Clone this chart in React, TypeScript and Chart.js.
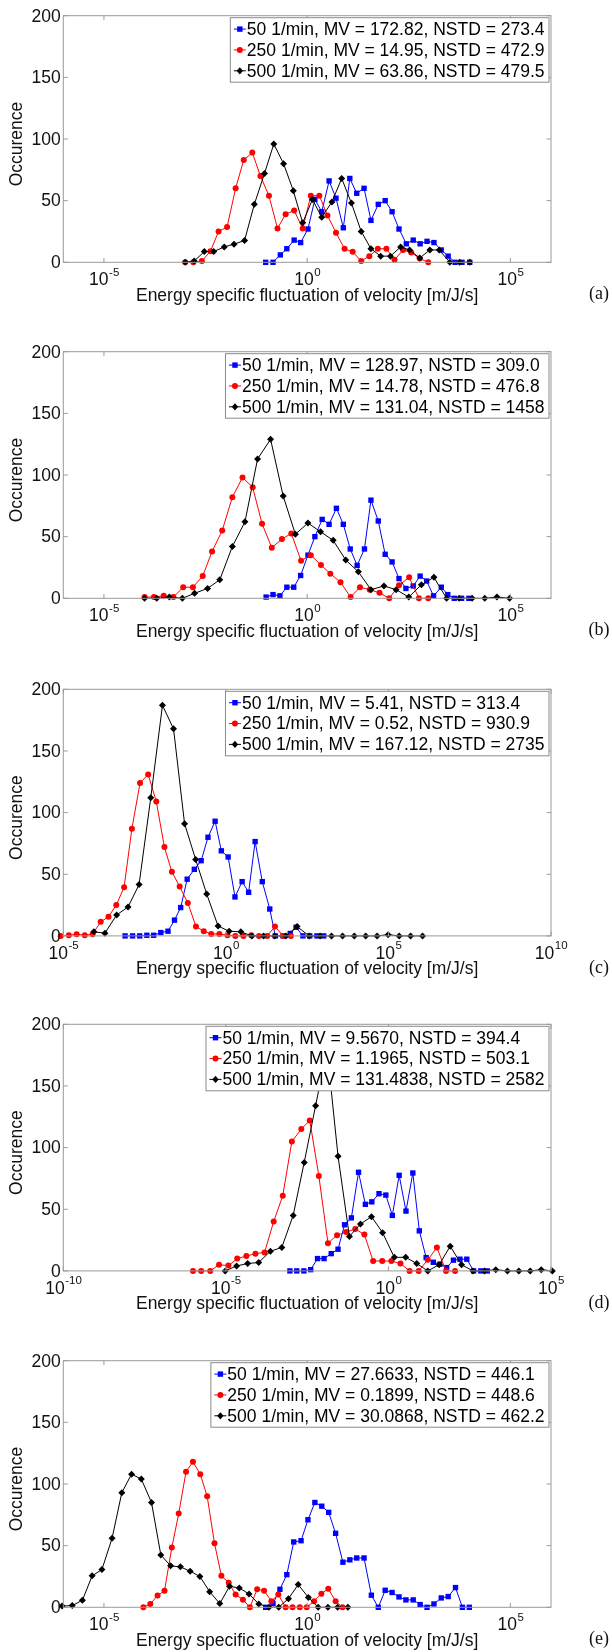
import React, { useEffect, useRef } from "react";
import { Chart, registerables } from "chart.js";
Chart.register(...registerables);

const SANS = '"Liberation Sans", Arial, Helvetica, sans-serif';
const SERIF = '"Liberation Serif", "Times New Roman", serif';
const BLUE = "#0000ff";
const RED = "#ff0000";
const BLACK = "#000000";
const AXIS = "#9a9a9a";

const yTicks = [0, 50, 100, 150, 200];
const xTitle = "Energy specific fluctuation of velocity [m/J/s]";
const yTitle = "Occurence";

// ---------- (a) ----------
const aXRange = [-6, 6];
const aXTicks = [-5, 0, 5];
const aLegend = ["50 1/min, MV = 172.82, NSTD = 273.4", "250 1/min, MV = 14.95, NSTD = 472.9", "500 1/min, MV = 63.86, NSTD = 479.5"];
const aBlueX = [-1.02, -0.84, -0.66, -0.5, -0.32, -0.16, 0.02, 0.19, 0.36, 0.54, 0.71, 0.89, 1.05, 1.22, 1.4, 1.57, 1.75, 1.92, 2.09, 2.26, 2.44, 2.61, 2.78, 2.95, 3.12, 3.3, 3.47, 3.64, 3.81, 4.0];
const aBlueY = [0, 0, 6, 11, 18, 16, 27, 51, 41, 66, 52, 28, 68, 56, 60, 34, 47, 50, 41, 27, 15, 18, 15, 17, 16, 10, 5, 0, 0, 0];
const aRedX = [-3.0, -2.8, -2.59, -2.38, -2.18, -1.97, -1.76, -1.56, -1.35, -1.15, -0.94, -0.73, -0.53, -0.32, -0.11, 0.09, 0.3, 0.5, 0.71, 0.92, 1.12, 1.33, 1.53, 1.74, 1.95, 2.15, 2.36, 2.56, 2.77, 2.98];
const aRedY = [0, 0, 1, 9, 25, 28.6, 60, 83, 89, 70, 54, 27.5, 39, 42, 27.5, 54, 54, 38, 24, 11, 8.5, 1, 5, 11, 11, 2, 10, 8, 3, 0];
const aBlackX = [-3.0, -2.78, -2.53, -2.3, -2.04, -1.8, -1.54, -1.3, -1.05, -0.82, -0.58, -0.34, -0.11, 0.13, 0.36, 0.61, 0.85, 1.09, 1.33, 1.57, 1.81, 2.05, 2.3, 2.52, 2.77, 3.02, 3.25, 3.51, 3.75, 4.0];
const aBlackY = [0, 1, 8.7, 8.7, 12.5, 14.7, 17.7, 47, 72, 96, 80, 58, 32, 51, 36.5, 49, 68, 48, 25, 11, 5, 5, 12.5, 10, 3.5, 10, 10, 0, 0, 0];

// ---------- (b) ----------
const bXRange = [-6, 6];
const bXTicks = [-5, 0, 5];
const bLegend = ["50 1/min, MV = 128.97, NSTD = 309.0", "250 1/min, MV = 14.78, NSTD = 476.8", "500 1/min, MV = 131.04, NSTD = 1458"];
const bBlueX = [-1.01, -0.84, -0.67, -0.5, -0.33, -0.16, 0.02, 0.19, 0.37, 0.54, 0.72, 0.89, 1.06, 1.23, 1.41, 1.57, 1.75, 1.92, 2.09, 2.26, 2.43, 2.61, 2.78, 2.94, 3.11, 3.3, 3.46, 3.62, 3.8, 3.98];
const bBlueY = [1, 3, 2, 9, 9, 18.5, 35, 50, 64, 60, 73, 60, 40, 26.7, 40, 79.6, 62.7, 35.7, 29.5, 16, 8, 10, 18, 14, 2, 9, 3, 0, 0, 0];
const bRedX = [-4.0, -3.77, -3.53, -3.29, -3.05, -2.81, -2.57, -2.34, -2.09, -1.84, -1.59, -1.34, -1.11, -0.87, -0.62, -0.39, -0.15, 0.09, 0.34, 0.57, 0.82, 1.07, 1.3, 1.54, 1.78, 2.02, 2.26, 2.51, 2.75, 2.98];
const bRedY = [1, 1, 2, 1, 9, 9, 18, 38, 55, 82, 98, 90, 60.5, 41, 48, 52.6, 30.5, 35, 27, 20, 13, 1, 9, 7, 4.4, 0, 10.6, 17, 0, 0];
const bBlackX = [-4.0, -3.7, -3.39, -3.07, -2.77, -2.45, -2.15, -1.84, -1.53, -1.22, -0.9, -0.59, -0.29, 0.02, 0.33, 0.64, 0.95, 1.26, 1.57, 1.89, 2.19, 2.5, 2.81, 3.12, 3.43, 3.74, 4.06, 4.37, 4.67, 4.98];
const bBlackY = [0, 0, 1, 0, 4, 8, 15, 42, 62, 113, 129, 83, 52, 61, 54, 47, 31, 21.5, 7, 10, 7, 1, 11, 17, 0, 0, 0, 0, 1, 0];

// ---------- (c) ----------
const cXRange = [-5, 10];
const cXTicks = [-5, 0, 5, 10];
const cLegend = ["50 1/min, MV = 5.41, NSTD = 313.4", "250 1/min, MV = 0.52, NSTD = 930.9", "500 1/min, MV = 167.12, NSTD = 2735"];
const cBlueX = [-3.1, -2.87, -2.65, -2.43, -2.22, -2.0, -1.78, -1.58, -1.39, -1.19, -0.97, -0.76, -0.55, -0.33, -0.14, 0.07, 0.28, 0.5, 0.7, 0.9, 1.12, 1.35, 1.52, 1.76, 1.98, 2.16, 2.37, 2.58, 2.8, 3.01];
const cBlueY = [0, 0, 0, 0.5, 0.5, 2.7, 3.8, 12.8, 23, 46, 54, 61, 80, 93, 69, 64, 31.6, 44, 35.4, 76.5, 44, 21.8, 0, 0, 2, 7, 0, 0, 0, 0];
const cRedX = [-5.08, -4.83, -4.59, -4.34, -4.1, -3.85, -3.61, -3.37, -3.13, -2.89, -2.64, -2.39, -2.14, -1.89, -1.66, -1.42, -1.17, -0.92, -0.68, -0.45, -0.2, 0.05, 0.29, 0.54, 0.78, 1.02, 1.27, 1.51, 1.76, 2.0];
const cRedY = [0, 0.5, 1.4, 0.5, 1.4, 11.4, 15.5, 25, 39.5, 87, 124, 131, 109, 72, 52, 40, 26.7, 7.6, 3.8, 1.6, 1.6, 0.5, 0, 0, 0.5, 0, 0, 7.6, 0, 0];
const cBlackX = [-4.06, -3.72, -3.36, -3.01, -2.67, -2.31, -1.95, -1.61, -1.27, -0.93, -0.59, -0.24, 0.1, 0.46, 0.8, 1.16, 1.5, 1.85, 2.19, 2.56, 2.9, 3.25, 3.59, 3.95, 4.3, 4.65, 4.99, 5.33, 5.68, 6.05];
const cBlackY = [3.3, 2.2, 17, 23.4, 41.6, 112, 187, 168, 91, 62, 34, 8, 3.8, 3.3, 0, 0, 0, 0, 7.6, 0, 0, 0, 0, 0, 0, 0, 1, 0, 0, 0];

// ---------- (d) ----------
const dXRange = [-10, 5];
const dXTicks = [-10, -5, 0, 5];
const dLegend = ["50 1/min, MV = 9.5670, NSTD = 394.4", "250 1/min, MV = 1.1965, NSTD = 503.1", "500 1/min, MV = 131.4838, NSTD = 2582"];
const dBlueX = [-3.03, -2.82, -2.6, -2.39, -2.18, -1.98, -1.76, -1.55, -1.35, -1.14, -0.92, -0.71, -0.51, -0.29, -0.08, 0.12, 0.33, 0.54, 0.75, 0.95, 1.16, 1.38, 1.58, 1.79, 2.0, 2.2, 2.41, 2.62, 2.84, 3.04];
const dBlueY = [0, 0, 0, 1, 10, 10, 14, 17.6, 37.4, 43, 80, 54, 56, 62.6, 61.5, 45, 77.5, 48.5, 79.4, 32.5, 10.8, 7, 5.4, 2.7, 8.7, 9.5, 9.5, 0, 0, 0];
const dRedX = [-6.01, -5.76, -5.48, -5.21, -4.92, -4.65, -4.37, -4.09, -3.81, -3.53, -3.25, -2.97, -2.68, -2.42, -2.14, -1.86, -1.58, -1.3, -1.02, -0.74, -0.47, -0.19, 0.09, 0.37, 0.65, 0.93, 1.21, 1.49, 1.77, 2.05];
const dRedY = [0, 0, 0, 5, 4.3, 10, 12, 14, 15, 40, 61, 105, 115, 122, 77, 22.5, 29, 31.5, 34, 29.5, 8, 8, 8, 6, 0, 0, 9, 19, 0, 0];
const dBlackX = [-5.02, -4.67, -4.33, -3.99, -3.63, -3.28, -2.93, -2.59, -2.24, -1.89, -1.55, -1.2, -0.86, -0.52, -0.18, 0.18, 0.53, 0.87, 1.21, 1.56, 1.9, 2.25, 2.6, 2.95, 3.3, 3.66, 4.01, 4.36, 4.7, 5.04];
const dBlackY = [0, 4, 6, 6.8, 16, 19, 45, 88, 134, 180, 93, 28, 38, 44, 31, 11, 11, 6, 0, 5, 20, 5, 0, 0, 1, 0, 0, 0, 1, 0];

// ---------- (e) ----------
const eXRange = [-6, 6];
const eXTicks = [-5, 0, 5];
const eLegend = ["50 1/min, MV = 27.6633, NSTD = 446.1", "250 1/min, MV = 0.1899, NSTD = 448.6", "500 1/min, MV = 30.0868, NSTD = 462.2"];
const eBlueX = [-1.02, -0.84, -0.67, -0.5, -0.33, -0.15, 0.02, 0.19, 0.36, 0.53, 0.7, 0.88, 1.05, 1.22, 1.4, 1.58, 1.75, 1.92, 2.09, 2.26, 2.43, 2.61, 2.78, 2.95, 3.12, 3.3, 3.47, 3.65, 3.82, 3.99];
const eBlueY = [0, 3, 14.6, 26.5, 53, 54, 71, 85, 82, 77, 60, 36.6, 38.5, 40, 40, 9.8, 0, 13.8, 12, 8.4, 6, 6, 2.2, 0, 2.7, 7.6, 8.7, 16, 0, 0];
const eRedX = [-4.03, -3.86, -3.68, -3.51, -3.33, -3.16, -2.98, -2.81, -2.63, -2.46, -2.28, -2.11, -1.93, -1.76, -1.58, -1.41, -1.23, -1.06, -0.88, -0.71, -0.53, -0.36, -0.18, -0.01, 0.17, 0.35, 0.52, 0.7, 0.87];
const eRedY = [0, 2.7, 9.5, 13.5, 48.5, 76, 110, 118, 108, 90, 52, 25.5, 20, 10.3, 6.2, 0, 14.6, 13.5, 5, 10.3, 0, 0, 0, 0, 5, 11, 15, 5, 0];
const eBlackX = [-6.03, -5.78, -5.53, -5.29, -5.05, -4.8, -4.56, -4.32, -4.08, -3.83, -3.6, -3.36, -3.12, -2.88, -2.64, -2.4, -2.15, -1.91, -1.67, -1.43, -1.19, -0.94, -0.7, -0.46, -0.22, 0.03, 0.27, 0.51, 0.75, 1.0];
const eBlackY = [1, 1.4, 5.7, 25.5, 30.6, 56, 93, 108, 104, 85, 42.5, 33.6, 32.8, 29.3, 25, 12.7, 3, 17, 15.7, 10.8, 2.7, 0, 0, 7, 18.4, 8, 0, 0, 0, 0];

type Panel = {
  tag: string;
  plotTop: number;
  xRange: number[];
  xTicks: number[];
  legend: string[];
  blueX: number[]; blueY: number[];
  redX: number[]; redY: number[];
  blackX: number[]; blackY: number[];
};

const panels: Panel[] = [
  { tag: "(a)", plotTop: 15.7, xRange: aXRange, xTicks: aXTicks, legend: aLegend, blueX: aBlueX, blueY: aBlueY, redX: aRedX, redY: aRedY, blackX: aBlackX, blackY: aBlackY },
  { tag: "(b)", plotTop: 351.7, xRange: bXRange, xTicks: bXTicks, legend: bLegend, blueX: bBlueX, blueY: bBlueY, redX: bRedX, redY: bRedY, blackX: bBlackX, blackY: bBlackY },
  { tag: "(c)", plotTop: 689.3, xRange: cXRange, xTicks: cXTicks, legend: cLegend, blueX: cBlueX, blueY: cBlueY, redX: cRedX, redY: cRedY, blackX: cBlackX, blackY: cBlackY },
  { tag: "(d)", plotTop: 1024.3, xRange: dXRange, xTicks: dXTicks, legend: dLegend, blueX: dBlueX, blueY: dBlueY, redX: dRedX, redY: dRedY, blackX: dBlackX, blackY: dBlackY },
  { tag: "(e)", plotTop: 1360.7, xRange: eXRange, xTicks: eXTicks, legend: eLegend, blueX: eBlueX, blueY: eBlueY, redX: eRedX, redY: eRedY, blackX: eBlackX, blackY: eBlackY },
];

const CANVAS_H = 312;
const PLOT_LEFT = 63.3;
const PLOT_RIGHT = 551;
const PLOT_H = 246.6;
const FS = 17.5;

function legendMarker(ctx: CanvasRenderingContext2D, kind: string, x: number, y: number) {
  ctx.beginPath();
  if (kind === "rect") ctx.rect(x - 2.7, y - 2.7, 5.4, 5.4);
  else if (kind === "circle") ctx.arc(x, y, 3, 0, Math.PI * 2);
  else {
    ctx.moveTo(x - 3.2, y);
    ctx.lineTo(x, y - 3.6);
    ctx.lineTo(x + 3.2, y);
    ctx.lineTo(x, y + 3.6);
    ctx.closePath();
  }
  ctx.fill();
}

function decorPlugin(p: Panel) {
  return {
    id: "decor",
    afterDraw(chart: any) {
      const ctx: CanvasRenderingContext2D = chart.ctx;
      const ca = chart.chartArea;
      const xs = chart.scales.x;
      const ys = chart.scales.y;
      ctx.save();
      // axes box
      ctx.strokeStyle = AXIS;
      ctx.lineWidth = 1;
      ctx.strokeRect(ca.left, ca.top, ca.right - ca.left, ca.bottom - ca.top);
      const tl = 4.5;
      ctx.beginPath();
      yTicks.forEach((v) => {
        const y = ys.getPixelForValue(v);
        ctx.moveTo(ca.left, y); ctx.lineTo(ca.left + tl, y);
        ctx.moveTo(ca.right, y); ctx.lineTo(ca.right - tl, y);
      });
      p.xTicks.forEach((e) => {
        const x = xs.getPixelForValue(Math.pow(10, e));
        ctx.moveTo(x, ca.bottom); ctx.lineTo(x, ca.bottom - tl);
        ctx.moveTo(x, ca.top); ctx.lineTo(x, ca.top + tl);
      });
      ctx.stroke();

      // legend
      ctx.font = `${FS}px ${SANS}`;
      const tw = Math.max(...p.legend.map((s) => ctx.measureText(s).width));
      const bw = tw + 21;
      const bh = 64.5;
      const bx = ca.right - 2 - bw;
      const by = ca.top + 2;
      ctx.fillStyle = "#ffffff";
      ctx.fillRect(bx, by, bw, bh);
      ctx.strokeStyle = "#8a8a8a";
      ctx.strokeRect(bx, by, bw, bh);
      const kinds = ["rect", "circle", "diamond"];
      const colors = [BLUE, RED, BLACK];
      p.legend.forEach((s, i) => {
        const ry = by + bh / 2 + (i - 1) * 20.85;
        ctx.strokeStyle = colors[i];
        ctx.fillStyle = colors[i];
        ctx.beginPath();
        ctx.moveTo(bx + 3.5, ry); ctx.lineTo(bx + 15.5, ry);
        ctx.stroke();
        legendMarker(ctx, kinds[i], bx + 9.5, ry);
        ctx.fillStyle = "#000";
        ctx.textAlign = "left";
        ctx.textBaseline = "middle";
        ctx.fillText(s, bx + 16.5, ry + 1);
      });

      // y tick labels
      ctx.fillStyle = "#111";
      ctx.font = `${FS}px ${SANS}`;
      ctx.textAlign = "right";
      ctx.textBaseline = "middle";
      yTicks.forEach((v) => {
        ctx.fillText(String(v), ca.left - 2.5, ys.getPixelForValue(v) + 1);
      });

      // x tick labels 10^e
      ctx.textAlign = "left";
      ctx.textBaseline = "alphabetic";
      p.xTicks.forEach((e) => {
        const x = xs.getPixelForValue(Math.pow(10, e));
        ctx.font = `${FS}px ${SANS}`;
        const w1 = ctx.measureText("10").width;
        ctx.font = `${11.5}px ${SANS}`;
        const es = String(e);
        const w2 = ctx.measureText(es).width;
        const start = x - (w1 + w2) / 2;
        ctx.font = `${FS}px ${SANS}`;
        ctx.fillText("10", start, ca.bottom + 22.7);
        ctx.font = `${11.5}px ${SANS}`;
        ctx.fillText(es, start + w1 + 0.5, ca.bottom + 13.5);
      });

      // axis titles
      ctx.font = `${FS}px ${SANS}`;
      ctx.textAlign = "center";
      ctx.fillText(xTitle, (ca.left + ca.right) / 2, ca.bottom + 38.4);
      ctx.save();
      ctx.translate(17, (ca.top + ca.bottom) / 2 + 5);
      ctx.rotate(-Math.PI / 2);
      ctx.textBaseline = "middle";
      ctx.fillText(yTitle, 0, 0);
      ctx.restore();

      // panel tag
      ctx.font = `18px ${SERIF}`;
      ctx.textAlign = "center";
      ctx.textBaseline = "alphabetic";
      ctx.fillText(p.tag, 599, ca.bottom + 37);
      ctx.restore();
    },
  };
}

function PanelChart({ p }: { p: Panel }) {
  const ref = useRef<HTMLCanvasElement | null>(null);
  const canvasTop = Math.floor(p.plotTop - 15);
  const padTop = p.plotTop - canvasTop;
  useEffect(() => {
    const canvas = ref.current;
    if (!canvas) return;
    const pts = (xs: number[], ys: number[]) => xs.map((e, i) => ({ x: Math.pow(10, e), y: ys[i] }));
    const chart = new Chart(canvas, {
      type: "line",
      data: {
        datasets: [
          {
            label: p.legend[2], data: pts(p.blackX, p.blackY), borderColor: BLACK, backgroundColor: BLACK,
            pointStyle: "rectRot", pointRadius: 3.5, pointBorderWidth: 0, borderWidth: 1, tension: 0, order: 0, clip: false,
          } as any,
          {
            label: p.legend[1], data: pts(p.redX, p.redY), borderColor: RED, backgroundColor: RED,
            pointStyle: "circle", pointRadius: 3, pointBorderWidth: 0, borderWidth: 1, tension: 0, order: 1, clip: false,
          } as any,
          {
            label: p.legend[0], data: pts(p.blueX, p.blueY), borderColor: BLUE, backgroundColor: BLUE,
            pointStyle: "rect", pointRadius: 3.8, pointBorderWidth: 0, borderWidth: 1, tension: 0, order: 2, clip: false,
          } as any,
        ],
      },
      options: {
        responsive: false,
        animation: false,
        devicePixelRatio: 1,
        events: [],
        layout: {
          padding: {
            left: PLOT_LEFT,
            right: 612 - PLOT_RIGHT,
            top: padTop,
            bottom: CANVAS_H - padTop - PLOT_H,
          },
        },
        plugins: {
          legend: { display: false },
          tooltip: { enabled: false },
          title: { display: false },
        },
        scales: {
          x: { type: "logarithmic", display: false, min: Math.pow(10, p.xRange[0]), max: Math.pow(10, p.xRange[1]) },
          y: { type: "linear", display: false, min: 0, max: 200 },
        },
      } as any,
      plugins: [decorPlugin(p)],
    });
    return () => chart.destroy();
  }, [p]);
  return (
    <canvas
      ref={ref}
      width={612}
      height={CANVAS_H}
      style={{ position: "absolute", left: 0, top: canvasTop, width: 612, height: CANVAS_H }}
    />
  );
}

export default function App() {
  return (
    <div style={{ position: "absolute", left: 0, top: 0, width: 612, height: 1652, overflow: "hidden", background: "#fff" }}>
      {panels.map((p) => (
        <PanelChart key={p.tag} p={p} />
      ))}
    </div>
  );
}
